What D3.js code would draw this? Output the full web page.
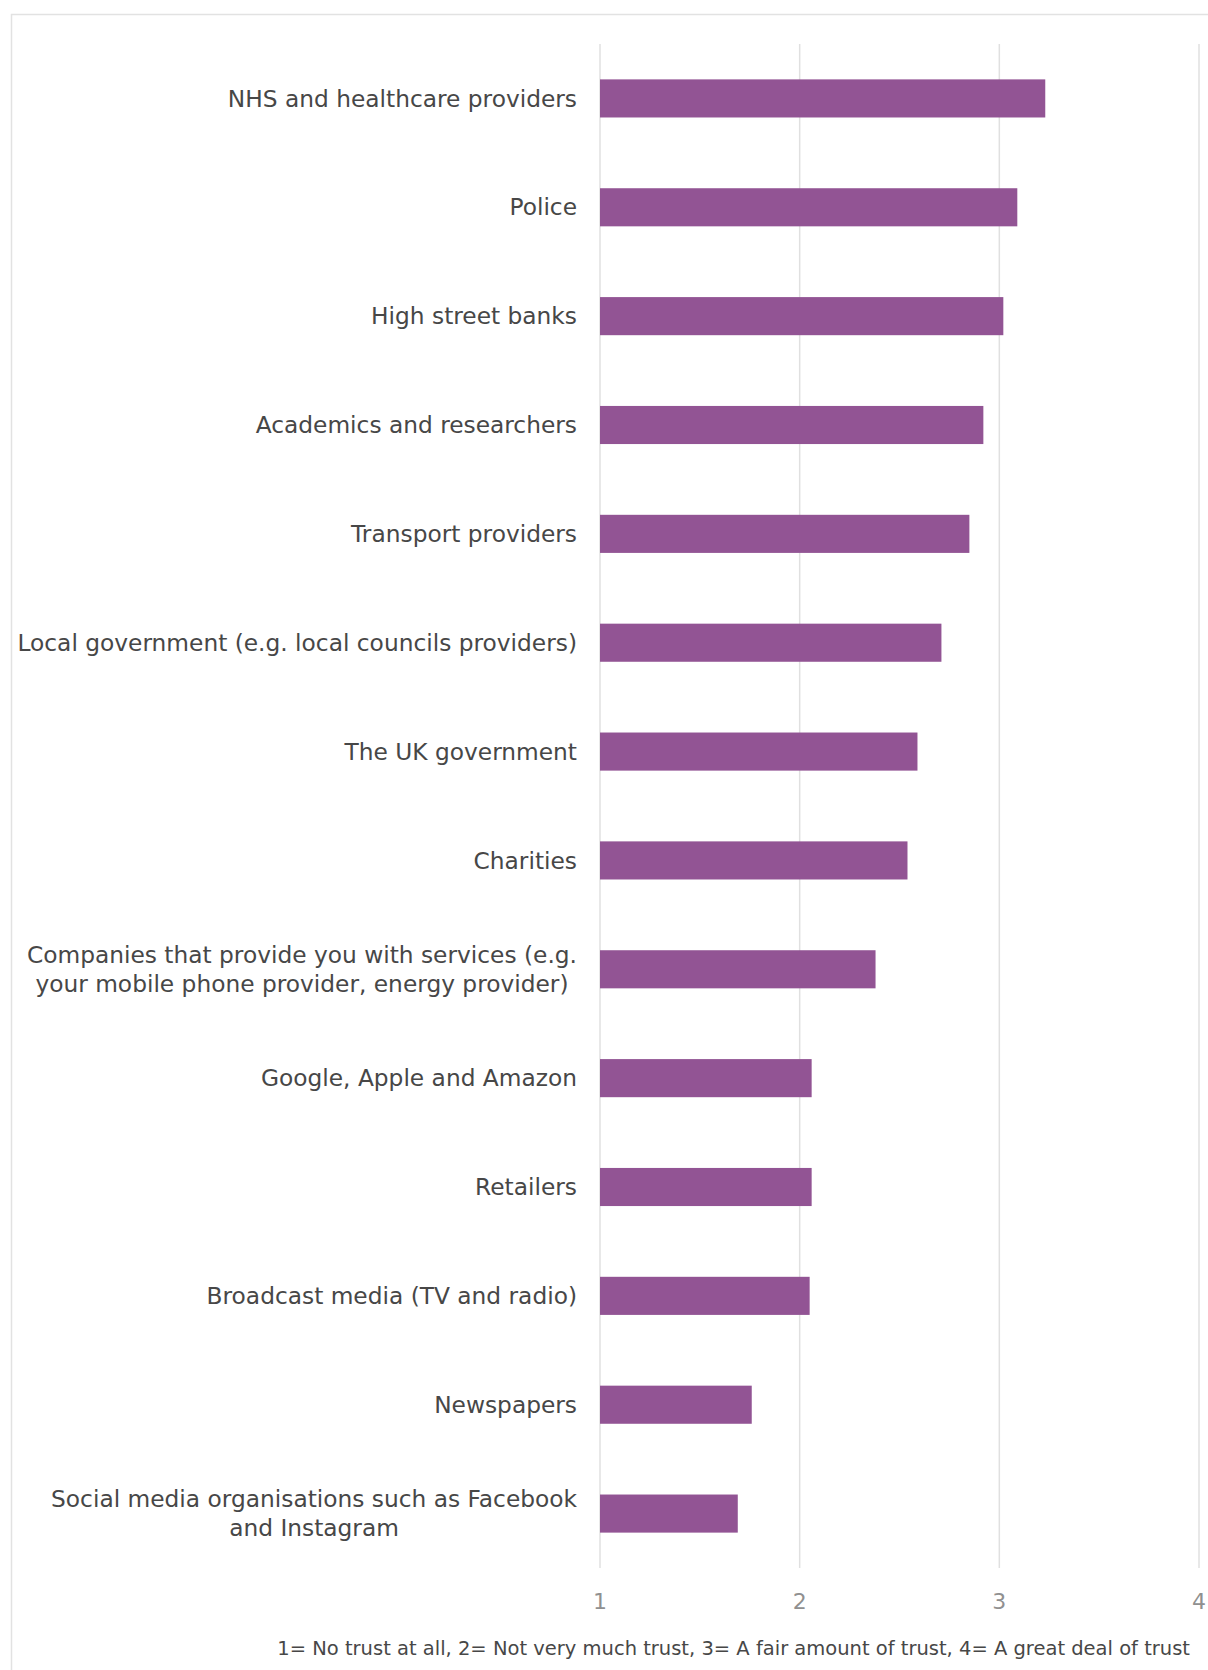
<!DOCTYPE html>
<html>
<head>
<meta charset="utf-8">
<script src="https://cdn.jsdelivr.net/npm/d3@7"></script>
<style>
  body { margin: 0; background: #fff; }
  svg { display: block; font-family: "DejaVu Sans", sans-serif; }
</style>
</head>
<body>
<div id="chart"></div>
<script>
const categories = [
  ["NHS and healthcare providers"],
  ["Police"],
  ["High street banks"],
  ["Academics and researchers"],
  ["Transport providers"],
  ["Local government (e.g. local councils providers)"],
  ["The UK government"],
  ["Charities"],
  ["Companies that provide you with services (e.g.", "your mobile phone provider, energy provider)"],
  ["Google, Apple and Amazon"],
  ["Retailers"],
  ["Broadcast media (TV and radio)"],
  ["Newspapers"],
  ["Social media organisations such as Facebook", "and Instagram"]
];
const values = [3.23, 3.09, 3.02, 2.92, 2.85, 2.71, 2.59, 2.54, 2.38, 2.06, 2.06, 2.05, 1.76, 1.69];
const ticks = [1, 2, 3, 4];
const footnote = "1= No trust at all, 2= Not very much trust, 3= A fair amount of trust, 4= A great deal of trust";

const width = 1208, height = 1670;
const margin = { top: 44, right: 9, bottom: 102, left: 600 };

const svg = d3.select("#chart").append("svg")
  .attr("width", width)
  .attr("height", height);

// outer frame, only top and left edges visible
svg.append("rect")
  .attr("x", 11.5).attr("y", 14.5)
  .attr("width", 1400).attr("height", 1800)
  .attr("fill", "none")
  .attr("stroke", "#e2e2e2")
  .attr("stroke-width", 1.5);

const x = d3.scaleLinear()
  .domain([1, 4])
  .range([margin.left, width - margin.right]);

const y = d3.scaleBand()
  .domain(d3.range(categories.length))
  .range([margin.top, height - margin.bottom])
  .paddingInner(0.65)
  .paddingOuter(0.325);

// gridlines
svg.append("g")
  .selectAll("line")
  .data(ticks)
  .join("line")
  .attr("x1", d => x(d)).attr("x2", d => x(d))
  .attr("y1", margin.top).attr("y2", height - margin.bottom)
  .attr("stroke", "#e0e0e0")
  .attr("stroke-width", 1.5);

// bars
svg.append("g")
  .selectAll("rect")
  .data(values)
  .join("rect")
  .attr("x", x(1))
  .attr("y", (d, i) => y(i))
  .attr("width", d => x(d) - x(1))
  .attr("height", y.bandwidth())
  .attr("fill", "#925494");

// category labels (multi-line labels centred within their block)
const labelRight = margin.left - 23;
const lineH = 29;
const labels = svg.append("g")
  .attr("fill", "#474747")
  .attr("font-size", 23.3);

categories.forEach((lines, i) => {
  const cy = y(i) + y.bandwidth() / 2;
  const g = labels.append("g");
  const t = g.selectAll("text")
    .data(lines)
    .join("text")
    .attr("y", (d, j) => cy + (j - (lines.length - 1) / 2) * lineH)
    .attr("dy", "0.35em")
    .text(d => d);
  if (lines.length === 1) {
    t.attr("x", labelRight).attr("text-anchor", "end");
  } else {
    const w = d3.max(t.nodes(), n => n.getComputedTextLength());
    t.attr("x", labelRight - w / 2).attr("text-anchor", "middle");
  }
});

// x axis tick labels
svg.append("g")
  .attr("fill", "#909090")
  .attr("font-size", 22)
  .attr("text-anchor", "middle")
  .selectAll("text")
  .data(ticks)
  .join("text")
  .attr("x", d => x(d))
  .attr("y", 1601)
  .attr("dy", "0.35em")
  .text(d => d);

svg.append("text")
  .attr("x", 1190)
  .attr("y", 1648)
  .attr("dy", "0.35em")
  .attr("text-anchor", "end")
  .attr("fill", "#474747")
  .attr("font-size", 19.5)
  .text(footnote);
</script>
</body>
</html>
